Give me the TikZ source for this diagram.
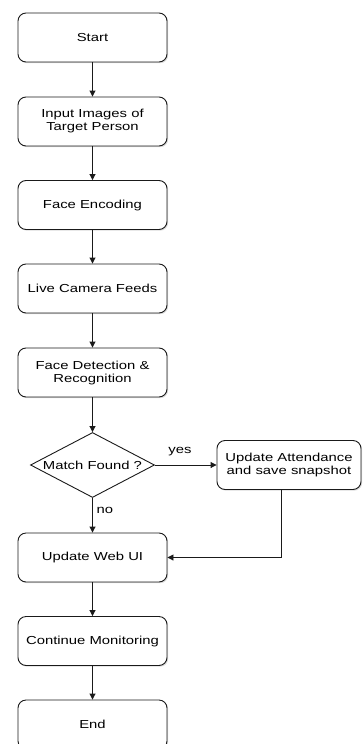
\documentclass[tikz,border=0pt]{standalone}
\usepackage{fontspec}
\usepackage{tikz}
\usetikzlibrary{shapes.geometric,arrows.meta,shadows}
\newfontfamily\flowfont{Liberation Sans}[FakeStretch=1.28]
\definecolor{linie}{HTML}{1a1a1a}
\definecolor{schatten}{HTML}{9a9a9a}

\begin{document}
\begin{tikzpicture}[x=1pt,y=1pt,
    flowbox/.style={draw=linie, line width=0.9pt, rounded corners=8pt, fill=white,
        minimum width=149pt, minimum height=49pt, align=center,
        font=\flowfont\fontsize{11.6}{13}\selectfont,
        drop shadow={opacity=0.35, shadow xshift=1.2pt, shadow yshift=-1.2pt, fill=schatten}},
    flowcheck/.style={draw=linie, line width=0.9pt, diamond, aspect=1.9, inner sep=0pt, fill=white,
        minimum width=124pt, minimum height=65pt,
        font=\flowfont\fontsize{11.6}{13}\selectfont},
    flowlabel/.style={font=\flowfont\fontsize{11.6}{13}\selectfont},
    flowarrow/.style={draw=linie, line width=0.9pt, -{Triangle[length=6pt,width=6pt]}}]
\useasboundingbox (0,0) rectangle (363,-744);
\clip (0,0) rectangle (363,-744);

% Main column
\node[flowbox] (start) at (92.5,-37.5) {Start};
\node[flowbox] (input) at (92.5,-121.5) {Input Images of\\Target Person};
\node[flowbox] (encode) at (92.5,-205) {Face Encoding};
\node[flowbox] (camera) at (92.5,-288.5) {Live Camera Feeds};
\node[flowbox] (detect) at (92.5,-372.5) {Face Detection \&\\Recognition};
\node[flowcheck] (match) at (92.5,-465) {Match Found ?};
\node[flowbox] (webui) at (92.5,-557.5) {Update Web UI};
\node[flowbox] (monitor) at (92.5,-641) {Continue Monitoring};
\node[flowbox] (ende) at (92.5,-724.5) {End};

% Side branch
\node[flowbox, minimum width=144pt] (attend) at (289,-465) {Update Attendance\\and save snapshot};

% Arrows
\draw[flowarrow] (start) -- (input);
\draw[flowarrow] (input) -- (encode);
\draw[flowarrow] (encode) -- (camera);
\draw[flowarrow] (camera) -- (detect);
\draw[flowarrow] (detect) -- (match);
\draw[flowarrow] (match) -- (attend);
\draw[flowarrow] (match) -- (webui);
\draw[flowarrow] ([xshift=-8pt]attend.south) |- (webui.east);
\draw[flowarrow] (webui) -- (monitor);
\draw[flowarrow] (monitor) -- (ende);

% Labels
\node[flowlabel] (yes) at (180,-452) {yes};
\node[flowlabel] (no) at (105,-510) {no};
\end{tikzpicture}
\end{document}
